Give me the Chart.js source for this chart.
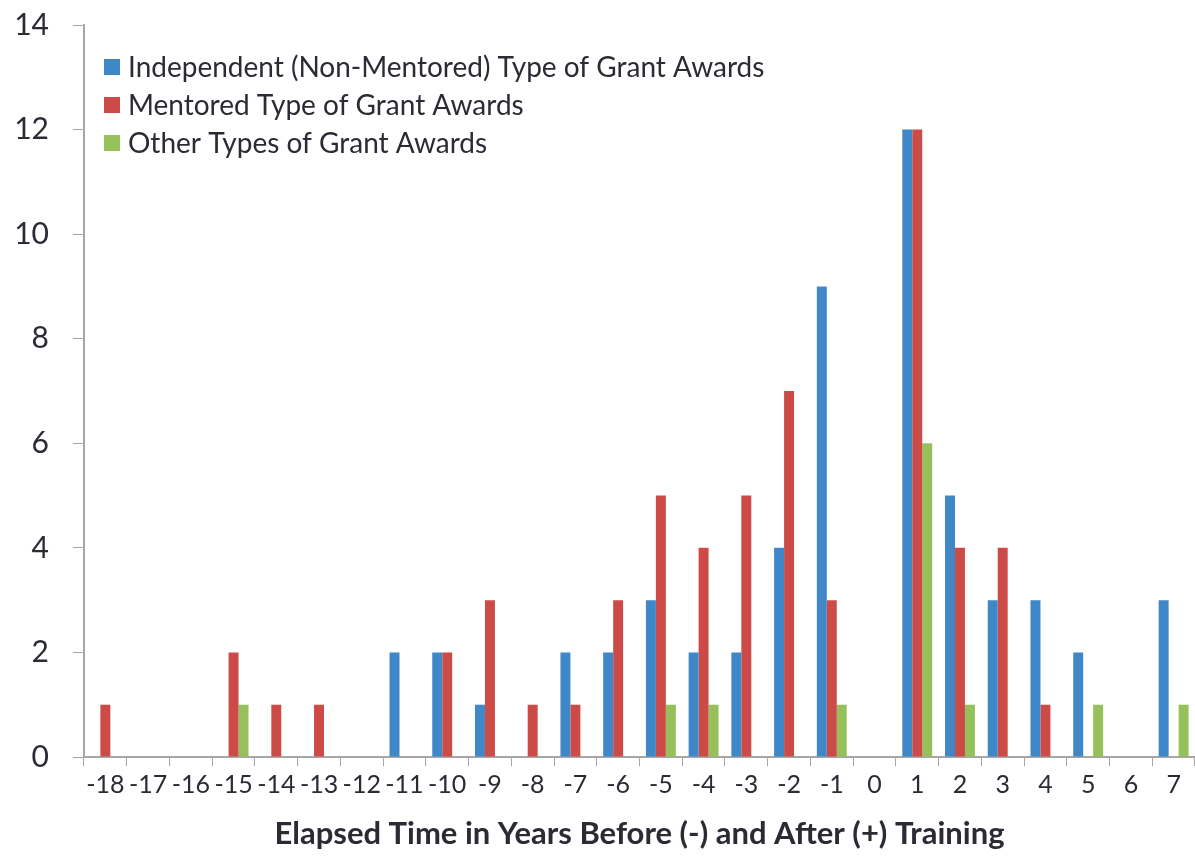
<!DOCTYPE html>
<html lang="en">
<head>
  <meta charset="UTF-8" />
  <title>Grant Awards by Elapsed Time</title>
  <script src="https://cdn.jsdelivr.net/npm/chart.js"></script>
  <style>
    html, body { margin: 0; padding: 0; background: #fff; }
    .wrap { width: 1195px; height: 856px; }
  </style>
</head>
<body>
  <div class="wrap"><canvas id="grantChart" width="1195" height="856"></canvas></div>

  <script>
    // years relative to training
    const years = ['-18', '-17', '-16', '-15', '-14', '-13', '-12', '-11', '-10', '-9', '-8', '-7', '-6',
                   '-5', '-4', '-3', '-2', '-1', '0', '1', '2', '3', '4', '5', '6', '7'];

    const independent = [0, 0, 0, 0, 0, 0, 0, 2, 2, 1, 0, 2, 2, 3, 2, 2, 4, 9, 0, 12, 5, 3, 3, 2, 0, 3];
    const mentored    = [1, 0, 0, 2, 1, 1, 0, 0, 2, 3, 1, 1, 3, 5, 4, 5, 7, 3, 0, 12, 4, 4, 1, 0, 0, 0];
    const other       = [0, 0, 0, 1, 0, 0, 0, 0, 0, 0, 0, 0, 0, 1, 1, 0, 0, 1, 0, 6, 1, 0, 0, 1, 0, 1];

    const yTicks = [0, 2, 4, 6, 8, 10, 12, 14];

    const textColor = '#2a2b33';
    const axisColor = '#a6a6a6';
    const fontFamily = 'Lato, "Open Sans", sans-serif';

    // legend drawn inside the plot, top-left, one entry per line
    const insideLegend = {
      id: 'insideLegend',
      afterDraw(chart) {
        const c = chart.ctx;
        const area = chart.chartArea;
        const x = area.left + 20;
        let y = area.top + 42;
        c.save();
        c.font = '28px ' + fontFamily;
        c.textBaseline = 'middle';
        c.textAlign = 'left';
        chart.data.datasets.forEach(ds => {
          c.fillStyle = ds.backgroundColor;
          c.fillRect(x, y - 8, 16, 16);
          c.fillStyle = textColor;
          c.fillText(ds.label, x + 24, y + 1);
          y += 38;
        });
        c.restore();
      }
    };

    const ctx = document.getElementById('grantChart').getContext('2d');
    new Chart(ctx, {
      type: 'bar',
      data: {
        labels: years,
        datasets: [
          { label: 'Independent (Non-Mentored) Type of Grant Awards', data: independent, backgroundColor: '#3f87c6' },
          { label: 'Mentored Type of Grant Awards', data: mentored, backgroundColor: '#cd4b47' },
          { label: 'Other Types of Grant Awards', data: other, backgroundColor: '#96c05a' }
        ]
      },
      plugins: [insideLegend],
      options: {
        responsive: false,
        animation: false,
        datasets: { bar: { barPercentage: 1.0, categoryPercentage: 0.7 } },
        layout: { padding: { top: 25, right: 0, left: 0, bottom: 0 } },
        plugins: {
          tooltip: { enabled: false },
          legend: { display: false }
        },
        scales: {
          x: {
            grid: { drawOnChartArea: false, drawTicks: true, tickLength: 9, color: axisColor, offset: true },
            border: { color: axisColor, width: 2 },
            ticks: { color: textColor, font: { family: fontFamily, size: 25 }, padding: 4, maxRotation: 0, autoSkip: false },
            title: {
              display: true,
              text: 'Elapsed Time in Years Before (-) and After (+) Training',
              color: textColor,
              font: { family: fontFamily, size: 31, weight: 'bold' },
              padding: { top: 4, bottom: 3 }
            },
            afterFit: scale => { scale.height = 99; }
          },
          y: {
            min: 0,
            max: 14,
            afterBuildTicks: scale => { scale.ticks = yTicks.map(v => ({ value: v })); },
            grid: { drawOnChartArea: false, drawTicks: true, tickLength: 11, color: axisColor },
            border: { color: axisColor, width: 2 },
            ticks: { color: textColor, font: { family: fontFamily, size: 30 }, padding: 24 },
            afterFit: scale => {
              scale.width = 84;
              scale.paddingTop = 0;
              scale.paddingBottom = 0;
            }
          }
        }
      }
    });
  </script>
</body>
</html>
